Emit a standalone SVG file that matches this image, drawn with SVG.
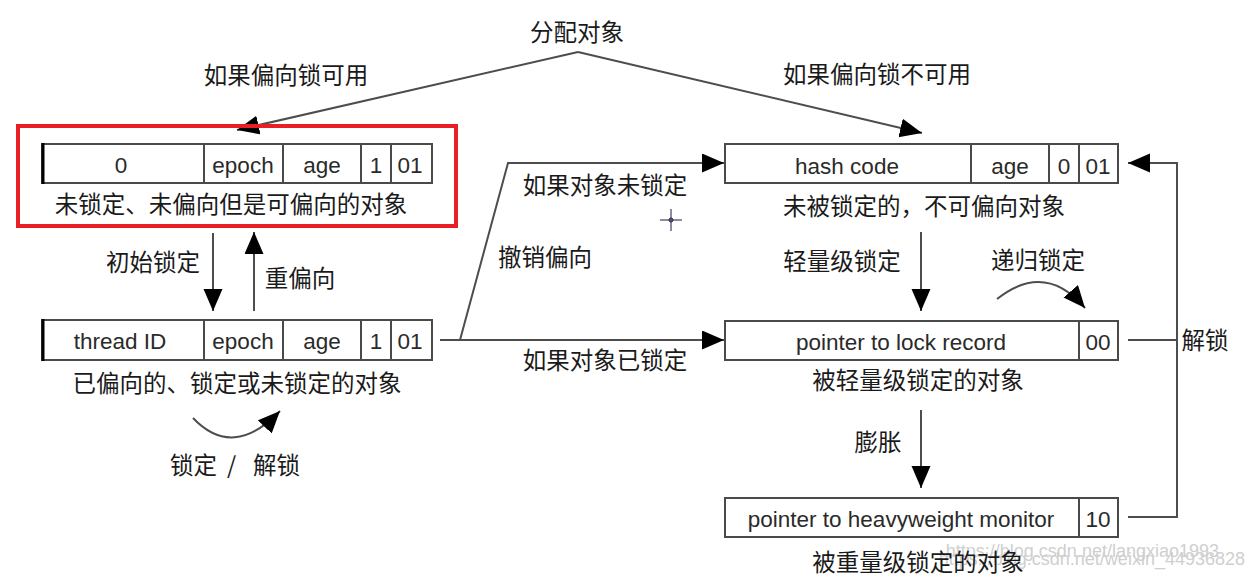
<svg xmlns="http://www.w3.org/2000/svg" width="1253" height="579" viewBox="0 0 1253 579">
<style>
.bx{fill:#fff;stroke:#4a4a4a;stroke-width:2}
.dv{stroke:#4a4a4a;stroke-width:2}
.en{font-family:"Liberation Sans",Arial,sans-serif;font-size:22.5px;fill:#2a2a2a;text-anchor:middle}
.cn{font-family:"Noto Sans CJK SC","Liberation Sans",sans-serif;font-size:23.5px;fill:#1a1a1a;text-anchor:middle}
.ln{fill:none;stroke:#4d4d4d;stroke-width:2}
.ar{marker-end:url(#ah)}
.wm{font-family:"Liberation Sans",Arial,sans-serif;font-size:18px;fill:#cfcfcf;text-anchor:end}
</style>
<defs>
<marker id="ah" markerWidth="24" markerHeight="20" refX="22" refY="9.5" orient="auto" markerUnits="userSpaceOnUse">
<path d="M0,0 L22,9.5 L0,19 z" fill="#000"/>
</marker>
</defs>
<rect width="1253" height="579" fill="#fff"/>

<g id="connectors">
<path class="ln ar" d="M578,52 L237,130"/>
<path class="ln ar" d="M578,52 L922,133"/>
<path class="ln ar" d="M213,233 L213,311"/>
<path class="ln ar" d="M254,311 L254,232"/>
<path class="ln ar" d="M440,340 L460,340 L508,163 L724,163"/>
<path class="ln ar" d="M460,340 L724,340"/>
<path class="ln ar" d="M921,232 L921,311"/>
<path class="ln ar" d="M921,410 L921,488"/>
<path class="ln" d="M1128,340 L1177,340"/>
<path class="ln ar" d="M1128,517 L1177,517 L1177,163 L1128,163"/>
<path class="ln ar" d="M193,418 Q233,460 280,411"/>
<path class="ln ar" d="M997,299 Q1045,261 1085,308"/>
</g>

<g id="labels">
<text class="cn" x="577" y="41">分配对象</text>
<text class="cn" x="286" y="84">如果偏向锁可用</text>
<text class="cn" x="877" y="83">如果偏向锁不可用</text>
<text class="cn" x="153" y="271">初始锁定</text>
<text class="cn" x="300" y="287">重偏向</text>
<text class="cn" x="605" y="194">如果对象未锁定</text>
<text class="cn" x="545" y="266">撤销偏向</text>
<text class="cn" x="605" y="369">如果对象已锁定</text>
<text class="cn" x="842" y="270">轻量级锁定</text>
<text class="cn" x="1038" y="269">递归锁定</text>
<text class="cn" x="878" y="451">膨胀</text>
<text class="cn" x="1205" y="349">解锁</text>
<text class="cn" style="text-anchor:start" y="474"><tspan x="170">锁定</tspan><tspan x="227">/</tspan><tspan x="253">解锁</tspan></text>
</g>

<g id="node-unlocked-biasable">
<rect x="18" y="126" width="438" height="100" fill="none" stroke="#e81f27" stroke-width="4"/>
<rect class="bx" x="42" y="144" width="390" height="39"/>
<line x1="43" y1="143" x2="43" y2="184" stroke="#000" stroke-width="3"/>
<line class="dv" x1="204" y1="144" x2="204" y2="183"/>
<line class="dv" x1="283" y1="144" x2="283" y2="183"/>
<line class="dv" x1="361" y1="144" x2="361" y2="183"/>
<line class="dv" x1="391" y1="144" x2="391" y2="183"/>
<text class="en" x="121" y="173">0</text>
<text class="en" x="243" y="173">epoch</text>
<text class="en" x="322" y="173">age</text>
<text class="en" x="376" y="173">1</text>
<text class="en" x="410" y="173">01</text>
<text class="cn" x="231" y="213">未锁定、未偏向但是可偏向的对象</text>
</g>

<g id="node-biased">
<rect class="bx" x="42" y="320" width="390" height="40"/>
<line x1="43" y1="319" x2="43" y2="361" stroke="#000" stroke-width="3"/>
<line class="dv" x1="204" y1="320" x2="204" y2="360"/>
<line class="dv" x1="283" y1="320" x2="283" y2="360"/>
<line class="dv" x1="361" y1="320" x2="361" y2="360"/>
<line class="dv" x1="391" y1="320" x2="391" y2="360"/>
<text class="en" x="120" y="349">thread ID</text>
<text class="en" x="243" y="349">epoch</text>
<text class="en" x="322" y="349">age</text>
<text class="en" x="376" y="349">1</text>
<text class="en" x="410" y="349">01</text>
<text class="cn" x="237" y="392">已偏向的、锁定或未锁定的对象</text>
</g>

<g id="node-unlocked-unbiasable">
<rect class="bx" x="725" y="144" width="393" height="39"/>
<line class="dv" x1="971" y1="144" x2="971" y2="183"/>
<line class="dv" x1="1049" y1="144" x2="1049" y2="183"/>
<line class="dv" x1="1079" y1="144" x2="1079" y2="183"/>
<text class="en" x="847" y="174">hash code</text>
<text class="en" x="1010" y="174">age</text>
<text class="en" x="1064" y="174">0</text>
<text class="en" x="1098" y="174">01</text>
<text class="cn" x="924" y="215">未被锁定的，不可偏向对象</text>
</g>

<g id="node-lightweight">
<rect class="bx" x="725" y="321" width="393" height="39"/>
<line class="dv" x1="1079" y1="321" x2="1079" y2="360"/>
<text class="en" x="901" y="350">pointer to lock record</text>
<text class="en" x="1098" y="350">00</text>
<text class="cn" x="918" y="389">被轻量级锁定的对象</text>
</g>

<g id="node-heavyweight">
<rect class="bx" x="725" y="498" width="393" height="39"/>
<line class="dv" x1="1079" y1="498" x2="1079" y2="537"/>
<text class="en" x="901" y="527">pointer to heavyweight monitor</text>
<text class="en" x="1098" y="527">10</text>
<text class="wm" x="1219" y="557">https://blog.csdn.net/langxiao1993</text>
<text class="wm" x="1245" y="565">https://blog.csdn.net/weixin_44936828</text>
<text class="cn" x="918" y="571">被重量级锁定的对象</text>
</g>

<g id="cursor" stroke="#1a1a40" stroke-width="1" fill="none">
<line x1="660" y1="220" x2="682" y2="220"/>
<line x1="671" y1="209" x2="671" y2="231"/>
<circle cx="671" cy="220" r="2"/>
</g>
</svg>
